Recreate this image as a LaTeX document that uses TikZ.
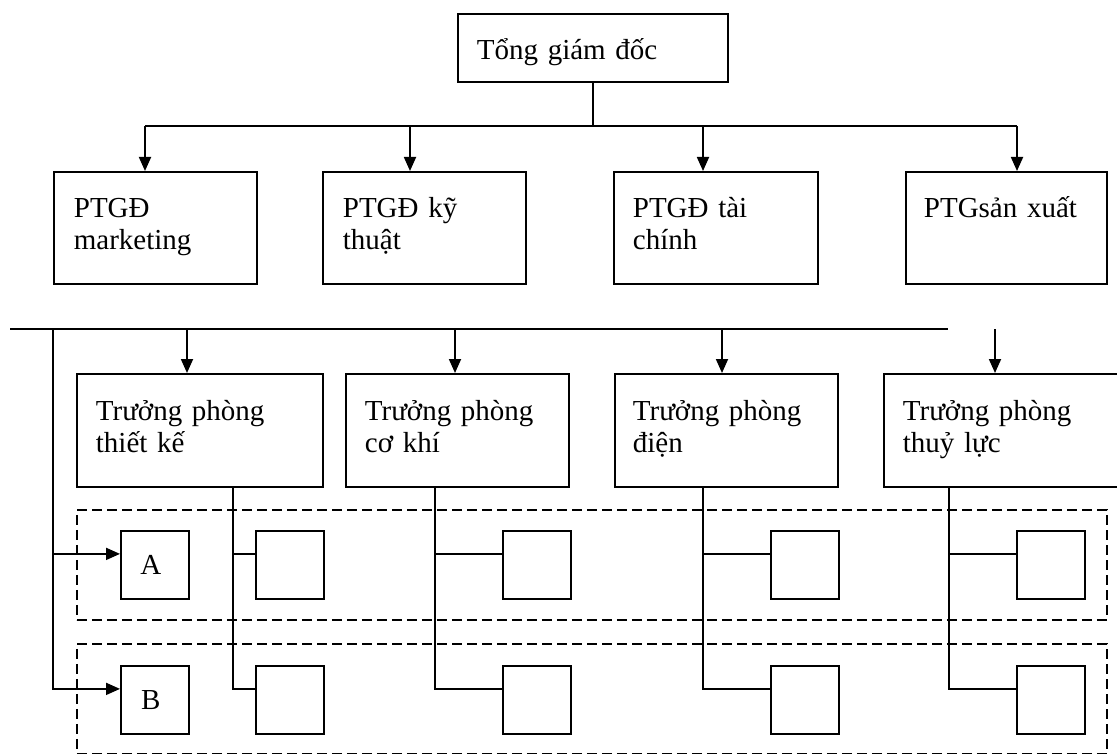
\documentclass[tikz,border=0pt]{standalone}
\usepackage{fontspec}
\setmainfont{Liberation Serif}
\usetikzlibrary{arrows.meta,positioning}

\begin{document}
\begin{tikzpicture}[x=1pt,y=-1pt,line width=1.8pt,
  box/.style={draw,rectangle,anchor=north west,inner sep=0pt,font=\fontsize{29}{32}\selectfont},
  sq/.style={box,minimum size=68pt},
  txt/.style={anchor=base west,inner sep=0pt,align=left,text width=215pt,font=\fontsize{29}{32}\selectfont},
  arr/.style={-{Triangle[length=14pt,width=12pt]}},
  grp/.style={draw,line width=1.6pt,dash pattern=on 10pt off 5pt,anchor=north west,inner sep=0pt}]
\path[use as bounding box] (0,0) rectangle (1117,754);
\clip (0,0) rectangle (1117,754);
% tong giam doc
\node[box,minimum width=270pt,minimum height=68pt] (tgd) at (457,13) {};
\node[txt] (ttgd) at ([shift={(19,47)}]tgd.north west) {Tổng giám đốc};
% pho tong giam doc
\node[box,minimum width=203pt,minimum height=112pt] (mkt) at (53,171) {};
\node[box,minimum width=203pt,minimum height=112pt] (kt) at (322,171) {};
\node[box,minimum width=204pt,minimum height=112pt] (tc) at (613,171) {};
\node[box,minimum width=201pt,minimum height=112pt] (sx) at (905,171) {};
\node[txt] (tmkt) at ([shift={(20,47)}]mkt.north west) {PTGĐ\\marketing};
\node[txt] (tkt) at ([shift={(20,47)}]kt.north west) {PTGĐ kỹ\\thuật};
\node[txt] (ttc) at ([shift={(19,47)}]tc.north west) {PTGĐ tài\\chính};
\node[txt] (tsx) at ([shift={(18,47)}]sx.north west) {PTGsản xuất};
% truong phong
\node[box,minimum width=246pt,minimum height=113pt] (tk) at (76,373) {};
\node[box,minimum width=223pt,minimum height=113pt] (ck) at (345,373) {};
\node[box,minimum width=223pt,minimum height=113pt] (dn) at (614,373) {};
\node[box,minimum width=250pt,minimum height=113pt] (tl) at (883,373) {};
\node[txt] (ttk) at ([shift={(19,47)}]tk.north west) {Trưởng phòng\\thiết kế};
\node[txt] (tck) at ([shift={(19,47)}]ck.north west) {Trưởng phòng\\cơ khí};
\node[txt] (tdn) at ([shift={(18,47)}]dn.north west) {Trưởng phòng\\điện};
\node[txt] (ttl) at ([shift={(19,47)}]tl.north west) {Trưởng phòng\\thuỷ lực};
% nhom A, B
\node[grp,minimum width=1030pt,minimum height=110pt] (ga) at (76,509) {};
\node[grp,minimum width=1030pt,minimum height=110pt] (gb) at (76,643) {};
\node[sq] (a) at (120,530) {\hspace{-8pt}A};
\node[sq] (b) at (120,665) {\hspace{-8pt}B};
\node[sq] (sa1) at (255,530) {};
\node[sq] (sb1) at (255,665) {};
\node[sq] (sa2) at (502,530) {};
\node[sq] (sb2) at (502,665) {};
\node[sq] (sa3) at (770,530) {};
\node[sq] (sb3) at (770,665) {};
\node[sq] (sa4) at (1016,530) {};
\node[sq] (sb4) at (1016,665) {};
% connectors
\coordinate (u1) at (145,126);
\coordinate (u2) at (410,126);
\coordinate (u3) at (703,126);
\coordinate (u4) at (1017,126);
\draw (tgd.south) -- (tgd.south |- u1);
\draw (u1) -- (u4);
\draw[arr] (u1) -- (u1 |- mkt.north);
\draw[arr] (u2) -- (u2 |- kt.north);
\draw[arr] (u3) -- (u3 |- tc.north);
\draw[arr] (u4) -- (u4 |- sx.north);
\coordinate (l0) at (10,329);
\coordinate (l9) at (948,329);
\coordinate (v0) at (53,329);
\coordinate (w1) at (187,329);
\coordinate (w2) at (455,329);
\coordinate (w3) at (722,329);
\coordinate (w4) at (995,329);
\draw (l0) -- (l9);
\draw[arr] (w1) -- (w1 |- tk.north);
\draw[arr] (w2) -- (w2 |- ck.north);
\draw[arr] (w3) -- (w3 |- dn.north);
\draw[arr] (w4) -- (w4 |- tl.north);
\draw[arr] (v0) |- ([yshift=11pt]b.west);
\draw[arr] (v0 |- a.west) ++(0,-11) -- ([yshift=11pt]a.west);
\coordinate (d1) at (233,486);
\coordinate (d2) at (435,486);
\coordinate (d3) at (703,486);
\coordinate (d4) at (949,486);
\draw (d1) |- ([yshift=11pt]sb1.west);
\draw (d2) |- ([yshift=11pt]sb2.west);
\draw (d3) |- ([yshift=11pt]sb3.west);
\draw (d4) |- ([yshift=11pt]sb4.west);
\draw ([yshift=11pt]sa1.west) -| (d1);
\draw ([yshift=11pt]sa2.west) -| (d2);
\draw ([yshift=11pt]sa3.west) -| (d3);
\draw ([yshift=11pt]sa4.west) -| (d4);
\end{tikzpicture}
\end{document}
